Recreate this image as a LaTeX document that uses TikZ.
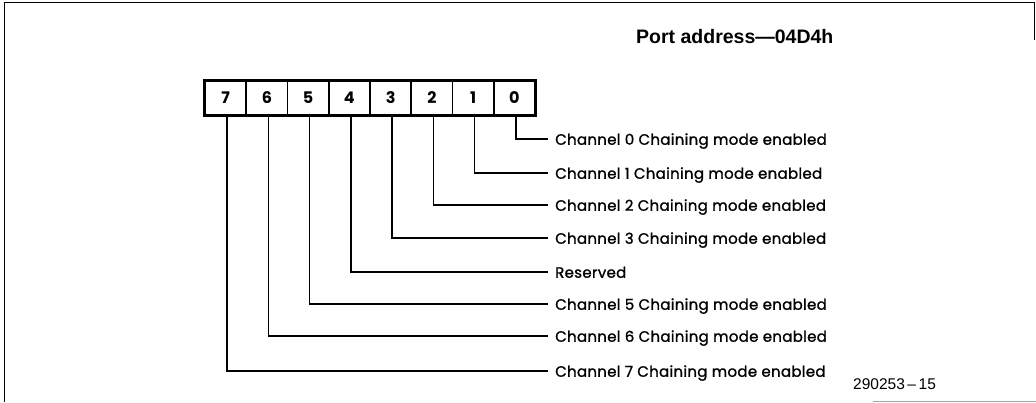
\documentclass[tikz,border=0pt]{standalone}
\usepackage{fontspec}
\setmainfont{Poppins}
\newfontfamily\lblfont{Poppins}[FakeBold=1.2, LetterSpace=2]
\newfontfamily\helv{Liberation Sans}
\begin{document}
\begin{tikzpicture}[x=1pt,y=-1pt,
  cellbox/.style={draw, line width=1.6pt, minimum width=41.25pt, minimum height=34pt, inner sep=0pt, font=\fontsize{16}{16}\selectfont\bfseries},
  lbl/.style={anchor=west, inner xsep=7pt, inner ysep=0pt, text height=11.5pt, text depth=0pt, font=\lblfont\fontsize{15}{16}\selectfont},
  conn/.style={line width=1.5pt},
  frame/.style={line width=1pt}]
\useasboundingbox (0,0) rectangle (1036,402);
% frame
\draw[frame] (1034,40) -- (1034,2) -- (4,2) -- (4,402);
\draw[line width=1pt, black!35] (873,401) -- (1036,401);
% title
\node[anchor=base west, inner sep=0pt, font=\helv\fontsize{19.5}{20}\selectfont\bfseries] (title) at (636,43) {Port address—04D4h};
% cells
\foreach \b in {7,...,0}{
  \node[cellbox] (b\b) at ({205+41.25*(7-\b+0.5)},98) {\b};
}
\draw[line width=3pt] (b7.north west) rectangle (b0.south east);
% labels
\node[lbl] (l0) at (548,139) {Channel 0 Chaining mode enabled};
\node[lbl] (l1) at (548,173) {Channel 1 Chaining mode enabled};
\node[lbl] (l2) at (548,205) {Channel 2 Chaining mode enabled};
\node[lbl] (l3) at (548,238) {Channel 3 Chaining mode enabled};
\node[lbl] (l4) at (548,272) {Reserved};
\node[lbl] (l5) at (548,304) {Channel 5 Chaining mode enabled};
\node[lbl] (l6) at (548,336) {Channel 6 Chaining mode enabled};
\node[lbl] (l7) at (548,371) {Channel 7 Chaining mode enabled};
\foreach \b in {0,...,7}{
  \draw[conn] ([xshift=1.5pt]b\b.south) |- (l\b.west);
}
\node[anchor=base west, inner sep=0pt, font=\helv\fontsize{15.5}{16}\selectfont] (fig) at (853,389) {290253\,–\,15};
\end{tikzpicture}
\end{document}
